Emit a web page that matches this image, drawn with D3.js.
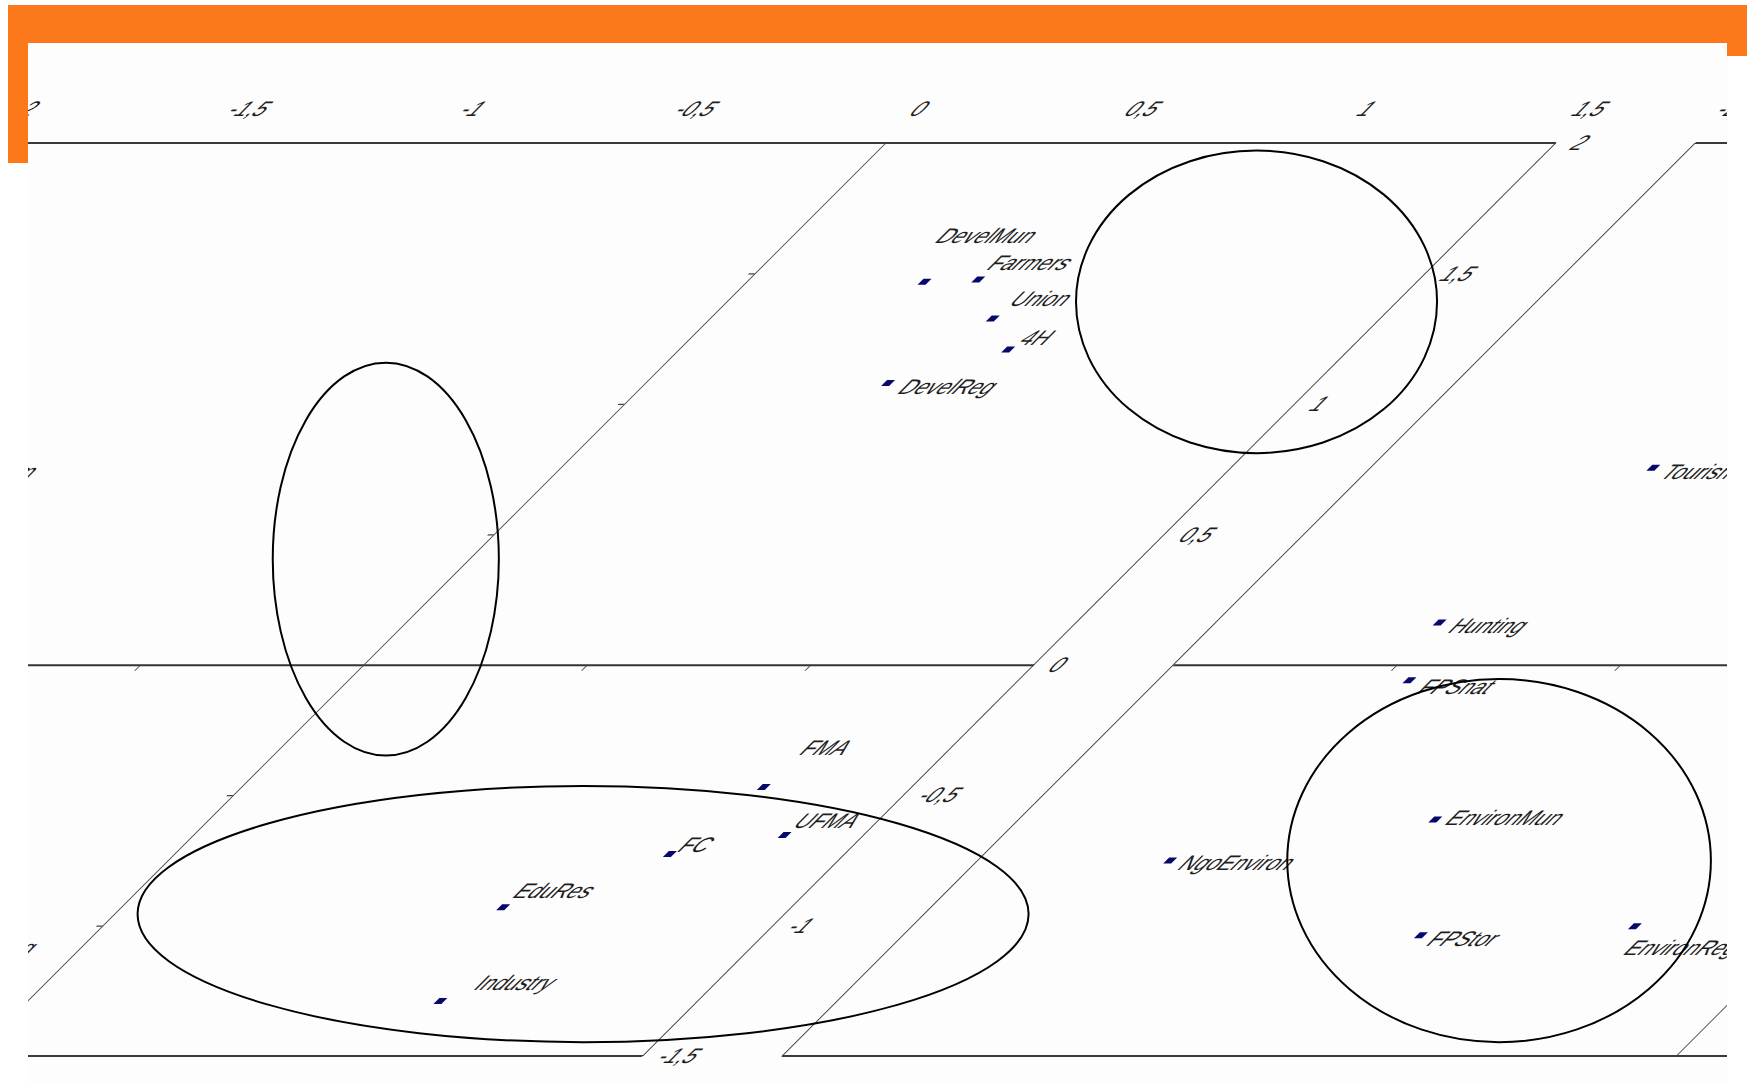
<!DOCTYPE html>
<html>
<head>
<meta charset="utf-8">
<script src="https://cdn.jsdelivr.net/npm/d3@7"></script>
<style>
  html, body { margin: 0; padding: 0; background: #ffffff; }
  svg { display: block; }
  text { font-family: "Liberation Sans", Arial, sans-serif; }
</style>
</head>
<body>
<script>
// Actor positions on the two map dimensions
const actors = ["DevelMun", "Farmers", "Union", "4H", "DevelReg", "Tourism", "Hunting", "FPSnat",
                "FMA", "UFMA", "FC", "EduRes", "Industry", "NgoEnviron", "EnvironMun", "FPStor", "EnvironReg"];
const dim1 = [0.398, 0.513, 0.633, 0.737, 0.543, -1.367, -1.499, -1.437,
              1.169, 1.323, 1.109, 0.855, 0.924, -1.569, -1.068, -0.841, -0.382];
const dim2 = [1.468, 1.477, 1.327, 1.208, 1.080, 0.755, 0.162, -0.060,
              -0.469, -0.653, -0.726, -0.930, -1.289, -0.751, -0.593, -1.037, -1.003];

const xTickValues = [-2, -1.5, -1, -0.5, 0, 0.5, 1, 1.5];
const xTickLabels = ["-2", "-1,5", "-1", "-0,5", "0", "0,5", "1", "1,5"];
const yTickValues = [-1.5, -1, -0.5, 0, 0.5, 1, 1.5, 2];
const yTickLabels = ["-1,5", "-1", "-0,5", "0", "0,5", "1", "1,5", "2"];
const xMinorTicks = [-1.5, -1, -0.5, 0.5, 1];
const yMinorTicks = [-1, -0.5, 0.5, 1, 1.5];

// Hand-placed label offsets (px) relative to each marker
const labelNudge = {
  "DevelMun": [-30, -46], "Farmers": [-3, -17], "Union": [2, -20], "4H": [4, -12],
  "DevelReg": [19, 4], "Tourism": [16, 4], "Hunting": [17, 3], "FPSnat": [19, 6],
  "FMA": [2, -39], "UFMA": [0, -14], "FC": [4, -9], "EduRes": [-2, -17],
  "Industry": [21, -18], "NgoEnviron": [15, 2], "EnvironMun": [13, -2],
  "FPStor": [14, 3], "EnvironReg": [15, 21]
};

// Group outlines: centre in map units (plus tile index), radii in map units
const rings = [
  { u: 1.186, v: 1.391, tile: 0, ru: 0.404, rv: 0.580 },
  { u: -0.187, v: 0.405, tile: 0, ru: 0.253, rv: 0.753 },
  { u: 1.049, v: -0.956, tile: 0, ru: 0.997, rv: 0.491 },
  { u: -0.833, v: -0.751, tile: 1, ru: 0.474, rv: 0.696 }
];

const W = 1747, H = 1083;
const view = { left: 28, top: 43, right: 1727, bottom: H };
const period = 1703.5;
const ink = "#1e1e1e";

const x = d3.scaleLinear().domain([-2, 1.5]).range([-530, 1034]);
const y = d3.scaleLinear().domain([-1.5, 2]).range([1056, 143]);
const pivot = y(0);
const shearAt = (px, py) => px - (py - pivot);

const points = actors.map((name, i) => ({ name, u: dim1[i], v: dim2[i] }));

const svg = d3.select("body").append("svg")
  .attr("width", W).attr("height", H)
  .attr("viewBox", `0 0 ${W} ${H}`);

svg.append("rect").attr("width", W).attr("height", H).attr("fill", "#ffffff");
svg.append("rect")
  .attr("x", view.left).attr("y", view.top)
  .attr("width", view.right - view.left).attr("height", view.bottom - view.top)
  .attr("fill", "#fdfdfd");

svg.append("defs").append("clipPath").attr("id", "view")
  .append("rect")
  .attr("x", view.left).attr("y", view.top)
  .attr("width", view.right - view.left).attr("height", view.bottom - view.top);

const clipped = svg.append("g").attr("clip-path", "url(#view)");

function drawPlot(g) {
  // plot frame
  const x0 = x(-2), x1 = x(1.5), yTop = y(2), yBot = y(-1.5);
  g.append("line").attr("x1", x0).attr("x2", x1).attr("y1", yTop).attr("y2", yTop)
    .attr("stroke", "#3a3a3a").attr("stroke-width", 2);
  g.append("line").attr("x1", x0).attr("x2", x1).attr("y1", yBot).attr("y2", yBot)
    .attr("stroke", "#3a3a3a").attr("stroke-width", 2);
  g.append("line").attr("x1", x0).attr("x2", x0).attr("y1", yTop).attr("y2", yBot)
    .attr("stroke", "#3a3a3a").attr("stroke-width", 1.3);
  g.append("line").attr("x1", x1).attr("x2", x1).attr("y1", yTop).attr("y2", yBot)
    .attr("stroke", "#3a3a3a").attr("stroke-width", 1.3);

  // horizontal axis through v = 0
  const xAxis = g.append("g").attr("transform", `translate(0,${y(0)})`)
    .call(d3.axisBottom(x).tickValues(xMinorTicks).tickSize(6).tickSizeOuter(0).tickFormat(""));
  xAxis.select(".domain").attr("stroke", "#333").attr("stroke-width", 2);
  xAxis.selectAll(".tick line").attr("stroke", "#444").attr("stroke-width", 1.2);

  // vertical axis through u = 0
  const yAxis = g.append("g").attr("transform", `translate(${x(0)},0)`)
    .call(d3.axisLeft(y).tickValues(yMinorTicks).tickSize(6).tickSizeOuter(0).tickFormat(""));
  yAxis.select(".domain").attr("stroke", "#444").attr("stroke-width", 1.2);
  yAxis.selectAll(".tick line").attr("stroke", "#444").attr("stroke-width", 1.2);

  // tick labels along the top
  const topAxis = g.append("g").attr("transform", `translate(0,${y(2) - 26})`)
    .call(d3.axisTop(x).tickValues(xTickValues).tickSize(0).tickPadding(0)
      .tickFormat((d, i) => xTickLabels[i]));
  topAxis.select(".domain").remove();
  topAxis.selectAll("text").attr("font-size", 21).attr("fill", ink)
    .attr("font-family", "Liberation Sans, Arial, sans-serif")
    .attr("dy", "0.32em").attr("y", -8);

  // tick labels down the right side
  const rightAxis = g.append("g").attr("transform", `translate(${x(1.5) + 19},0)`)
    .call(d3.axisRight(y).tickValues(yTickValues).tickSize(0).tickPadding(0)
      .tickFormat((d, i) => yTickLabels[i]));
  rightAxis.select(".domain").remove();
  rightAxis.selectAll("text").attr("font-size", 21).attr("fill", ink)
    .attr("font-family", "Liberation Sans, Arial, sans-serif");

  // markers
  const mw = 8, mh = 6;
  g.append("g").selectAll("rect").data(points).join("rect")
    .attr("x", d => x(d.u) - mw / 2)
    .attr("y", d => y(d.v) - mh / 2)
    .attr("width", mw).attr("height", mh)
    .attr("fill", "#08086a");

  // labels
  g.append("g").selectAll("text").data(points).join("text")
    .attr("x", d => x(d.u) + labelNudge[d.name][0])
    .attr("y", d => y(d.v) + labelNudge[d.name][1])
    .attr("dy", "0.35em")
    .attr("font-size", 21)
    .attr("fill", ink)
    .text(d => d.name);
}

[0, 1].forEach(k => {
  const tile = clipped.append("g")
    .attr("transform", `translate(${k * period},${pivot}) skewX(-45) translate(0,${-pivot})`);
  drawPlot(tile);
});

// group outlines, drawn upright over the sheared map
const uUnit = x(1) - x(0), vUnit = y(0) - y(1);
clipped.append("g").selectAll("ellipse").data(rings).join("ellipse")
  .attr("cx", d => shearAt(x(d.u), y(d.v)) + d.tile * period)
  .attr("cy", d => y(d.v))
  .attr("rx", d => d.ru * uUnit)
  .attr("ry", d => d.rv * vUnit)
  .attr("fill", "none")
  .attr("stroke", "#000")
  .attr("stroke-width", 2);

// orange frame
const orange = "#fb781b";
svg.append("rect").attr("x", 8).attr("y", 5).attr("width", W - 8).attr("height", 38).attr("fill", orange);
svg.append("rect").attr("x", 8).attr("y", 5).attr("width", 20).attr("height", 158).attr("fill", orange);
svg.append("rect").attr("x", 1727).attr("y", 5).attr("width", 20).attr("height", 51).attr("fill", orange);
</script>
</body>
</html>
